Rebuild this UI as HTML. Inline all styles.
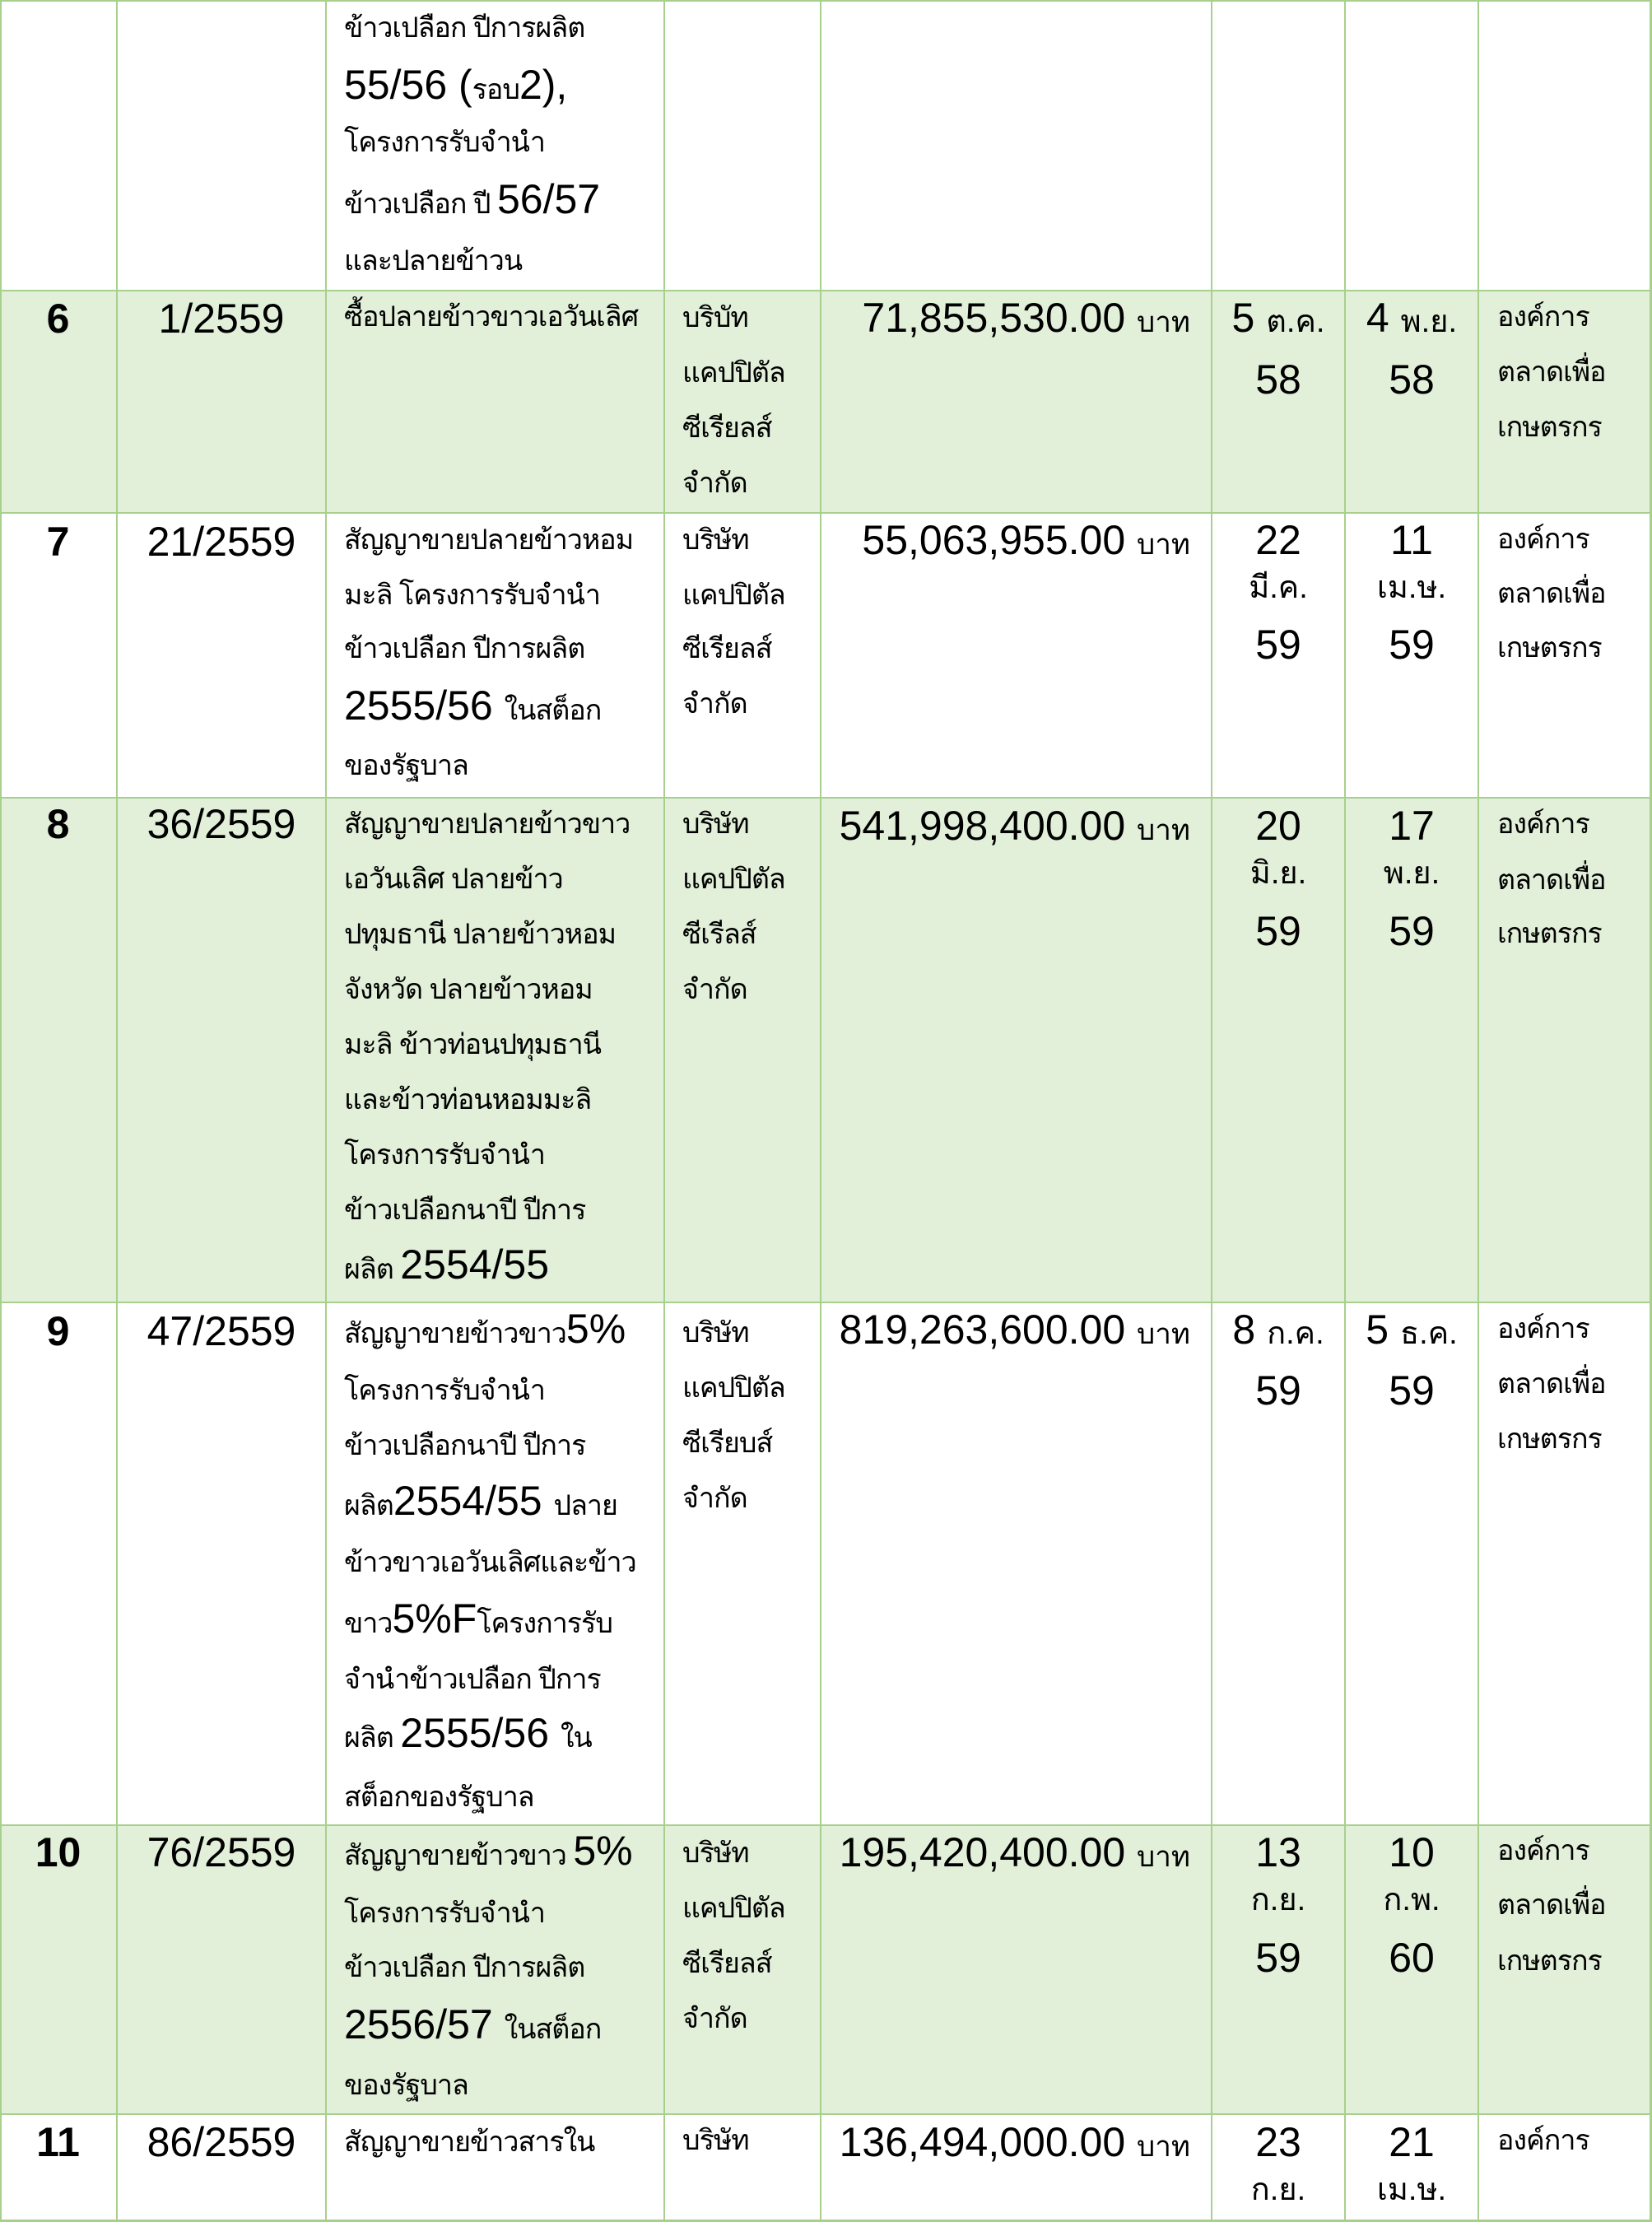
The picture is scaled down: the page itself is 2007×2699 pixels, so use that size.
<!DOCTYPE html>
<html><head><meta charset="utf-8">
<style>
html,body{margin:0;padding:0;background:#fff;}
#pg{position:relative;width:2007px;height:2699px;overflow:hidden;background:#fff;}
.bg{position:absolute;left:0;width:2006px;background:#E2EFD9;}
.h{position:absolute;left:0;width:2007px;height:2px;background:#A8D08D;}
.v{position:absolute;top:0;height:2699px;width:2px;background:#A8D08D;}
.l{position:absolute;font-family:"Liberation Sans",Arial,sans-serif;font-size:50px;line-height:50px;height:50px;white-space:nowrap;color:#000;overflow-x:clip;overflow-y:visible;}
.t{font-family:"Liberation Sans","DejaVu Sans",sans-serif;font-size:34px;letter-spacing:-1px;line-height:0;}
.tb{font-family:"Liberation Sans","DejaVu Sans",sans-serif;font-size:35px;line-height:0;}
.td{font-family:"Liberation Sans","DejaVu Sans",sans-serif;font-size:38px;line-height:0;}
.n{line-height:0;}
.b{font-weight:bold;}
.c1{left:0;width:141px;text-align:center;}
.c2{left:143px;width:252px;text-align:center;}
.c3{left:418px;width:386px;}
.c4{left:829px;width:166px;}
.c5{left:998px;width:448px;text-align:right;}
.c6{left:1473px;width:160px;text-align:center;}
.c7{left:1635px;width:160px;text-align:center;}
.c8{left:1819px;width:185px;}
</style></head><body><div id="pg">
<!-- row backgrounds -->
<div class="bg" style="top:353px;height:270px"></div>
<div class="bg" style="top:969px;height:613px"></div>
<div class="bg" style="top:2217px;height:351px"></div>
<!-- grid lines -->
<div class="h" style="top:0"></div>
<div class="h" style="top:352px"></div>
<div class="h" style="top:622px"></div>
<div class="h" style="top:968px"></div>
<div class="h" style="top:1581px"></div>
<div class="h" style="top:2216px"></div>
<div class="h" style="top:2567px"></div>
<div class="h" style="top:2696px;height:3px"></div>
<div class="v" style="left:0"></div>
<div class="v" style="left:141px"></div>
<div class="v" style="left:395px"></div>
<div class="v" style="left:806px"></div>
<div class="v" style="left:996px"></div>
<div class="v" style="left:1471px"></div>
<div class="v" style="left:1633px"></div>
<div class="v" style="left:1795px"></div>
<div class="v" style="left:2004px;width:3px"></div>

<!-- continuation row -->
<div class="l c3" style="top:3px"><span class="t">ข้าวเปลือก ปีการผลิต</span></div>
<div class="l c3" style="top:78px"><span class="n">55/56 (</span><span class="t">รอบ</span><span class="n">2),</span></div>
<div class="l c3" style="top:142px"><span class="t">โครงการรับจำนำ</span></div>
<div class="l c3" style="top:217px"><span class="t">ข้าวเปลือก ปี </span><span class="n">56/57</span></div>
<div class="l c3" style="top:286px"><span class="t">และปลายข้าวน</span></div>

<!-- row 6 -->
<div class="l c1 b" style="top:362px">6</div>
<div class="l c2" style="top:362px">1/2559</div>
<div class="l c3" style="top:354px"><span class="t">ซื้อปลายข้าวขาวเอวันเลิศ</span></div>
<div class="l c4" style="top:355px"><span class="t">บริบัท</span></div>
<div class="l c4" style="top:422px"><span class="t">แคปปิตัล</span></div>
<div class="l c4" style="top:489px"><span class="t">ซีเรียลส์</span></div>
<div class="l c4" style="top:556px"><span class="t">จำกัด</span></div>
<div class="l c5" style="top:361px"><span class="n">71,855,530.00 </span><span class="tb">บาท</span></div>
<div class="l c6" style="top:361px"><span class="n">5 </span><span class="td">ต.ค.</span></div>
<div class="l c6" style="top:436px">58</div>
<div class="l c7" style="top:361px"><span class="n">4 </span><span class="td">พ.ย.</span></div>
<div class="l c7" style="top:436px">58</div>
<div class="l c8" style="top:354px"><span class="t">องค์การ</span></div>
<div class="l c8" style="top:421px"><span class="t">ตลาดเพื่อ</span></div>
<div class="l c8" style="top:488px"><span class="t">เกษตรกร</span></div>

<!-- row 7 -->
<div class="l c1 b" style="top:633px">7</div>
<div class="l c2" style="top:633px">21/2559</div>
<div class="l c3" style="top:625px"><span class="t">สัญญาขายปลายข้าวหอม</span></div>
<div class="l c3" style="top:692px"><span class="t">มะลิ โครงการรับจำนำ</span></div>
<div class="l c3" style="top:757px"><span class="t">ข้าวเปลือก ปีการผลิต</span></div>
<div class="l c3" style="top:832px"><span class="n">2555/56 </span><span class="t">ในสต็อก</span></div>
<div class="l c3" style="top:899px"><span class="t">ของรัฐบาล</span></div>
<div class="l c4" style="top:625px"><span class="t">บริษัท</span></div>
<div class="l c4" style="top:692px"><span class="t">แคปปิตัล</span></div>
<div class="l c4" style="top:757px"><span class="t">ซีเรียลส์</span></div>
<div class="l c4" style="top:824px"><span class="t">จำกัด</span></div>
<div class="l c5" style="top:631px"><span class="n">55,063,955.00 </span><span class="tb">บาท</span></div>
<div class="l c6" style="top:631px">22</div>
<div class="l c6" style="top:684px"><span class="td">มี.ค.</span></div>
<div class="l c6" style="top:758px">59</div>
<div class="l c7" style="top:631px">11</div>
<div class="l c7" style="top:684px"><span class="td">เม.ษ.</span></div>
<div class="l c7" style="top:758px">59</div>
<div class="l c8" style="top:624px"><span class="t">องค์การ</span></div>
<div class="l c8" style="top:690px"><span class="t">ตลาดเพื่อ</span></div>
<div class="l c8" style="top:756px"><span class="t">เกษตรกร</span></div>

<!-- row 8 -->
<div class="l c1 b" style="top:976px">8</div>
<div class="l c2" style="top:976px">36/2559</div>
<div class="l c3" style="top:970px"><span class="t">สัญญาขายปลายข้าวขาว</span></div>
<div class="l c3" style="top:1037px"><span class="t">เอวันเลิศ ปลายข้าว</span></div>
<div class="l c3" style="top:1104px"><span class="t">ปทุมธานี ปลายข้าวหอม</span></div>
<div class="l c3" style="top:1171px"><span class="t">จังหวัด ปลายข้าวหอม</span></div>
<div class="l c3" style="top:1238px"><span class="t">มะลิ ข้าวท่อนปทุมธานี</span></div>
<div class="l c3" style="top:1305px"><span class="t">และข้าวท่อนหอมมะลิ</span></div>
<div class="l c3" style="top:1372px"><span class="t">โครงการรับจำนำ</span></div>
<div class="l c3" style="top:1439px"><span class="t">ข้าวเปลือกนาปี ปีการ</span></div>
<div class="l c3" style="top:1511px"><span class="t">ผลิต </span><span class="n">2554/55</span></div>
<div class="l c4" style="top:970px"><span class="t">บริษัท</span></div>
<div class="l c4" style="top:1037px"><span class="t">แคปปิตัล</span></div>
<div class="l c4" style="top:1104px"><span class="t">ซีเรีลส์</span></div>
<div class="l c4" style="top:1171px"><span class="t">จำกัด</span></div>
<div class="l c5" style="top:978px"><span class="n">541,998,400.00 </span><span class="tb">บาท</span></div>
<div class="l c6" style="top:978px">20</div>
<div class="l c6" style="top:1031px"><span class="td">มิ.ย.</span></div>
<div class="l c6" style="top:1106px">59</div>
<div class="l c7" style="top:978px">17</div>
<div class="l c7" style="top:1031px"><span class="td">พ.ย.</span></div>
<div class="l c7" style="top:1106px">59</div>
<div class="l c8" style="top:970px"><span class="t">องค์การ</span></div>
<div class="l c8" style="top:1038px"><span class="t">ตลาดเพื่อ</span></div>
<div class="l c8" style="top:1103px"><span class="t">เกษตรกร</span></div>

<!-- row 9 -->
<div class="l c1 b" style="top:1592px">9</div>
<div class="l c2" style="top:1592px">47/2559</div>
<div class="l c3" style="top:1589px"><span class="t">สัญญาขายข้าวขาว</span><span class="n">5%</span></div>
<div class="l c3" style="top:1658px"><span class="t">โครงการรับจำนำ</span></div>
<div class="l c3" style="top:1725px"><span class="t">ข้าวเปลือกนาปี ปีการ</span></div>
<div class="l c3" style="top:1798px"><span class="t">ผลิต</span><span class="n">2554/55 </span><span class="t">ปลาย</span></div>
<div class="l c3" style="top:1867px"><span class="t">ข้าวขาวเอวันเลิศและข้าว</span></div>
<div class="l c3" style="top:1941px"><span class="t">ขาว</span><span class="n">5%F</span><span class="t">โครงการรับ</span></div>
<div class="l c3" style="top:2009px"><span class="t">จำนำข้าวเปลือก ปีการ</span></div>
<div class="l c3" style="top:2080px"><span class="t">ผลิต </span><span class="n">2555/56 </span><span class="t">ใน</span></div>
<div class="l c3" style="top:2152px"><span class="t">สต็อกของรัฐบาล</span></div>
<div class="l c4" style="top:1588px"><span class="t">บริษัท</span></div>
<div class="l c4" style="top:1655px"><span class="t">แคปปิตัล</span></div>
<div class="l c4" style="top:1722px"><span class="t">ซีเรียบส์</span></div>
<div class="l c4" style="top:1789px"><span class="t">จำกัด</span></div>
<div class="l c5" style="top:1590px"><span class="n">819,263,600.00 </span><span class="tb">บาท</span></div>
<div class="l c6" style="top:1590px"><span class="n">8 </span><span class="td">ก.ค.</span></div>
<div class="l c6" style="top:1664px">59</div>
<div class="l c7" style="top:1590px"><span class="n">5 </span><span class="td">ธ.ค.</span></div>
<div class="l c7" style="top:1664px">59</div>
<div class="l c8" style="top:1583px"><span class="t">องค์การ</span></div>
<div class="l c8" style="top:1650px"><span class="t">ตลาดเพื่อ</span></div>
<div class="l c8" style="top:1717px"><span class="t">เกษตรกร</span></div>

<!-- row 10 -->
<div class="l c1 b" style="top:2225px">10</div>
<div class="l c2" style="top:2225px">76/2559</div>
<div class="l c3" style="top:2223px"><span class="t">สัญญาขายข้าวขาว </span><span class="n">5%</span></div>
<div class="l c3" style="top:2293px"><span class="t">โครงการรับจำนำ</span></div>
<div class="l c3" style="top:2359px"><span class="t">ข้าวเปลือก ปีการผลิต</span></div>
<div class="l c3" style="top:2434px"><span class="n">2556/57 </span><span class="t">ในสต็อก</span></div>
<div class="l c3" style="top:2502px"><span class="t">ของรัฐบาล</span></div>
<div class="l c4" style="top:2220px"><span class="t">บริษัท</span></div>
<div class="l c4" style="top:2287px"><span class="t">แคปปิตัล</span></div>
<div class="l c4" style="top:2354px"><span class="t">ซีเรียลส์</span></div>
<div class="l c4" style="top:2421px"><span class="t">จำกัด</span></div>
<div class="l c5" style="top:2225px"><span class="n">195,420,400.00 </span><span class="tb">บาท</span></div>
<div class="l c6" style="top:2225px">13</div>
<div class="l c6" style="top:2278px"><span class="td">ก.ย.</span></div>
<div class="l c6" style="top:2353px">59</div>
<div class="l c7" style="top:2225px">10</div>
<div class="l c7" style="top:2278px"><span class="td">ก.พ.</span></div>
<div class="l c7" style="top:2353px">60</div>
<div class="l c8" style="top:2217px"><span class="t">องค์การ</span></div>
<div class="l c8" style="top:2283px"><span class="t">ตลาดเพื่อ</span></div>
<div class="l c8" style="top:2351px"><span class="t">เกษตรกร</span></div>

<!-- row 11 -->
<div class="l c1 b" style="top:2577px">11</div>
<div class="l c2" style="top:2577px">86/2559</div>
<div class="l c3" style="top:2571px"><span class="t">สัญญาขายข้าวสารใน</span></div>
<div class="l c4" style="top:2569px"><span class="t">บริษัท</span></div>
<div class="l c5" style="top:2577px"><span class="n">136,494,000.00 </span><span class="tb">บาท</span></div>
<div class="l c6" style="top:2577px">23</div>
<div class="l c6" style="top:2630px"><span class="td">ก.ย.</span></div>
<div class="l c7" style="top:2577px">21</div>
<div class="l c7" style="top:2630px"><span class="td">เม.ษ.</span></div>
<div class="l c8" style="top:2569px"><span class="t">องค์การ</span></div>
</div></body></html>
